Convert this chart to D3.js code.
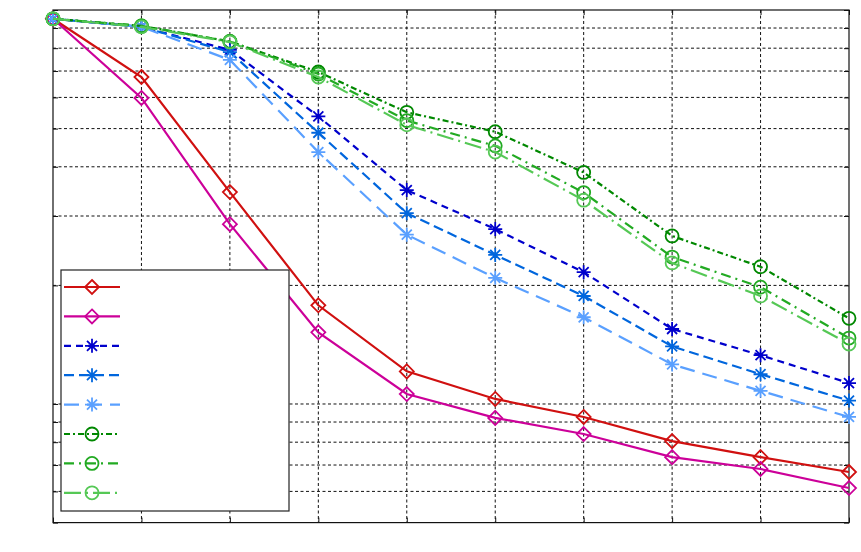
<!DOCTYPE html>
<html>
<head>
<meta charset="utf-8">
<script src="https://cdn.jsdelivr.net/npm/d3@7"></script>
<style>
html,body{margin:0;padding:0;background:#fff;}
svg{display:block;}
</style>
</head>
<body>
<svg id="chart" width="861" height="552"></svg>
<script>
// ---- data ----
const xValues = [1, 2, 3, 4, 5, 6, 7, 8, 9, 10];
const seriesNames = ["s1", "s2", "s3", "s4", "s5", "s6", "s7", "s8"];
const s1 = [0.950, 0.676, 0.345, 0.178, 0.121, 0.103, 0.0927, 0.0805, 0.0733, 0.0672];
const s2 = [0.950, 0.598, 0.286, 0.152, 0.106, 0.0922, 0.0839, 0.0733, 0.0684, 0.0612];
const s3 = [0.950, 0.906, 0.792, 0.537, 0.349, 0.278, 0.216, 0.155, 0.133, 0.113];
const s4 = [0.950, 0.906, 0.782, 0.488, 0.305, 0.239, 0.188, 0.140, 0.119, 0.102];
const s5 = [0.950, 0.906, 0.747, 0.436, 0.269, 0.209, 0.166, 0.126, 0.108, 0.0927];
const s6 = [0.950, 0.911, 0.832, 0.696, 0.550, 0.491, 0.387, 0.267, 0.223, 0.165];
const s7 = [0.950, 0.911, 0.832, 0.688, 0.524, 0.452, 0.344, 0.236, 0.198, 0.147];
const s8 = [0.950, 0.906, 0.829, 0.676, 0.511, 0.436, 0.329, 0.228, 0.188, 0.142];
const yTickValues = [0.05,0.06,0.07,0.08,0.09,0.1,0.2,0.3,0.4,0.5,0.6,0.7,0.8,0.9,1];

const seriesData = [s1, s2, s3, s4, s5, s6, s7, s8];
const styles = [
  {color:"#d01010", dash:null, marker:"diamond"},
  {color:"#cc0099", dash:null, marker:"diamond"},
  {color:"#0000cc", dash:"7,5", marker:"asterisk"},
  {color:"#0066dd", dash:"10,5", marker:"asterisk"},
  {color:"#5aa0ff", dash:"15,8", marker:"asterisk"},
  {color:"#008800", dash:"6,3,2,3", marker:"circle"},
  {color:"#22aa22", dash:"10,5,2,5", marker:"circle"},
  {color:"#55c855", dash:"17,5,2,5", marker:"circle"}
];

// ---- layout ----
const svg = d3.select("#chart");
const L = 53, R = 849, T = 10, B = 522.6;
const x = d3.scaleLinear().domain([1, 10]).range([L, R]);
const y = d3.scaleLog().domain([0.05, 1]).range([B, T]);

// grid
const g = svg.append("g");
g.selectAll("line.hg").data(yTickValues.filter(v => v > 0.05 && v < 1)).enter()
  .append("line").attr("x1", L).attr("x2", R)
  .attr("y1", d => y(d)).attr("y2", d => y(d))
  .attr("stroke", "#111").attr("stroke-width", 1).attr("stroke-dasharray", "3,2.5");
g.selectAll("line.vg").data(xValues.slice(1, -1)).enter()
  .append("line").attr("y1", T).attr("y2", B)
  .attr("x1", d => x(d)).attr("x2", d => x(d))
  .attr("stroke", "#111").attr("stroke-width", 1).attr("stroke-dasharray", "3,2.5");

// axes with inward ticks, no labels
const axL = d3.axisLeft(y).tickValues(yTickValues).tickSize(-5).tickFormat("");
const axR = d3.axisRight(y).tickValues(yTickValues).tickSize(-5).tickFormat("");
const axB = d3.axisBottom(x).tickValues(xValues).tickSize(-5).tickFormat("");
const axT = d3.axisTop(x).tickValues(xValues).tickSize(-5).tickFormat("");
[[axL, `translate(${L},0)`], [axR, `translate(${R},0)`], [axB, `translate(0,${B})`], [axT, `translate(0,${T})`]]
  .forEach(([ax, tr]) => {
    const a = svg.append("g").attr("transform", tr).call(ax);
    a.select(".domain").remove();
    a.selectAll("line").attr("stroke", "#111");
  });
svg.append("rect").attr("x", L).attr("y", T).attr("width", R - L).attr("height", B - T)
  .attr("fill", "none").attr("stroke", "#111").attr("stroke-width", 1.2);

// markers
function drawMarker(sel, type, color) {
  if (type === "diamond") {
    const s = 7;
    sel.append("path").attr("d", `M0,${-s}L${s},0L0,${s}L${-s},0Z`)
      .attr("fill", "none").attr("stroke", color).attr("stroke-width", 1.8);
  } else if (type === "circle") {
    sel.append("circle").attr("r", 6.5).attr("fill", "none")
      .attr("stroke", color).attr("stroke-width", 1.8);
  } else {
    const s = 7, d = 5;
    const p = `M${-s},0L${s},0M0,${-s}L0,${s}M${-d},${-d}L${d},${d}M${-d},${d}L${d},${-d}`;
    sel.append("path").attr("d", p).attr("fill", "none")
      .attr("stroke", color).attr("stroke-width", 1.8);
  }
}

const line = d3.line().x((d, i) => x(xValues[i])).y(d => y(d));
seriesData.forEach((vals, k) => {
  const st = styles[k];
  const sg = svg.append("g").attr("class", "series-" + seriesNames[k]);
  sg.append("path").attr("d", line(vals)).attr("fill", "none")
    .attr("stroke", st.color).attr("stroke-width", 2.2)
    .attr("stroke-dasharray", st.dash);
  vals.forEach((v, i) => {
    const m = sg.append("g").attr("transform", `translate(${x(xValues[i])},${y(v)})`);
    drawMarker(m, st.marker, st.color);
  });
});

// legend
const lg = svg.append("g");
lg.append("rect").attr("x", 61).attr("y", 270).attr("width", 228).attr("height", 241)
  .attr("fill", "#fff").attr("stroke", "#222").attr("stroke-width", 1.2);
seriesData.forEach((vals, k) => {
  const st = styles[k];
  const yy = 287 + k * 29.4;
  lg.append("line").attr("x1", 64).attr("x2", 120).attr("y1", yy).attr("y2", yy)
    .attr("stroke", st.color).attr("stroke-width", 2.2).attr("stroke-dasharray", st.dash);
  const m = lg.append("g").attr("transform", `translate(92,${yy})`);
  drawMarker(m, st.marker, st.color);
});
</script>
</body>
</html>
